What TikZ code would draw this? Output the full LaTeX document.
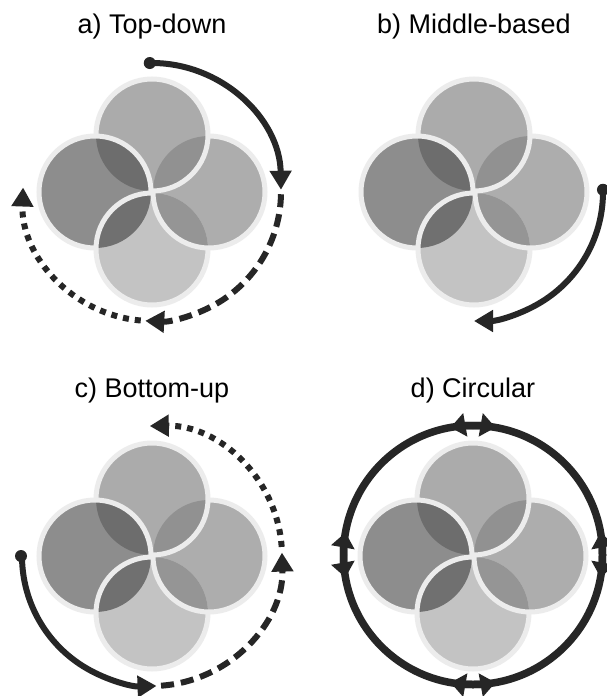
\documentclass[tikz,border=0pt]{standalone}
\usepackage{fontspec}
\setmainfont{Liberation Sans}
\usetikzlibrary{arrows.meta}
\definecolor{ringc}{HTML}{ECECEC}
\definecolor{cT}{HTML}{ABABAB}
\definecolor{cL}{HTML}{8D8D8D}
\definecolor{cR}{HTML}{ADADAD}
\definecolor{cB}{HTML}{C3C3C3}
\definecolor{lTL}{HTML}{6D6D6D}
\definecolor{lTR}{HTML}{919191}
\definecolor{lBL}{HTML}{707070}
\definecolor{lBR}{HTML}{959595}
\definecolor{ink}{HTML}{262626}
\newcommand\clipout[2]{\clip (-1000,-1000) -- (-1000,2000) -- (2000,2000) -- (2000,-1000) -- cycle ({#1+56},#2) arc[start angle=0,end angle=360,radius=56];}
\newcommand\flowerfour[2]{%
 \fill[cT] (#1,#2-57) circle (56);
 \fill[cL] (#1-57,#2) circle (56);
 \fill[cR] (#1+57,#2) circle (56);
 \fill[cB] (#1,#2+57) circle (56);
 \begin{scope}\clip (#1,#2-57) circle (56); \fill[lTL] (#1-57,#2) circle (56); \fill[lTR] (#1+57,#2) circle (56);\end{scope}
 \begin{scope}\clip (#1,#2+57) circle (56); \fill[lBL] (#1-57,#2) circle (56); \fill[lBR] (#1+57,#2) circle (56);\end{scope}
 \begin{scope}\clipout{#1-57}{#2}\draw[ringst] (#1,#2-57) circle (56);\end{scope}
 \begin{scope}\clipout{#1}{#2+57}\draw[ringst] (#1-57,#2) circle (56);\end{scope}
 \begin{scope}\clipout{#1+57}{#2}\draw[ringst] (#1,#2+57) circle (56);\end{scope}
 \begin{scope}\clipout{#1}{#2-57}\draw[ringst] (#1+57,#2) circle (56);\end{scope}
}
\tikzset{
 ringst/.style={draw=ringc, line width=5pt},
 arr/.style={draw=ink, line width=6pt, -{Triangle[length=19pt,width=21pt]}},
 dashedarr/.style={arr, dash pattern=on 13pt off 7pt},
 dottedarr/.style={arr, dash pattern=on 6pt off 6pt},
 dtip/.style={draw=ink, line width=7.5pt, -{Triangle[length=15pt,width=23pt]}},
 startdot/.style={fill=ink},
 title/.style={anchor=base, text=black, font=\fontsize{27}{31}\selectfont, inner sep=0pt},
}
\begin{document}
\begin{tikzpicture}[x=1pt,y=-1pt]
\useasboundingbox[fill=white] (0,0) rectangle (606,696);
% titles
\node[title] (ta) at (152,33) {a) Top-down};
\node[title] (tb) at (474,33) {b) Middle-based};
\node[title] (tc) at (152,397) {c) Bottom-up};
\node[title] (td) at (473,397) {d) Circular};
% flowers
\flowerfour{152}{192}
\flowerfour{474}{192}
\flowerfour{152}{556}
\flowerfour{473}{556}
% a) top-down
\fill[startdot] (152,192) ++(-91:129) circle (6);
\draw[arr] (152,192) ++(-91:129) arc[start angle=-91, end angle=-1, radius=129];
\draw[dashedarr] (152,192) ++(1:129) arc[start angle=1, end angle=93, radius=129];
\draw[dottedarr] (152,192) ++(95:129) arc[start angle=95, end angle=182, radius=129];
% b) middle-based
\fill[startdot] (474,192) ++(-1:129) circle (6);
\draw[arr] (474,192) ++(-1:129) arc[start angle=-1, end angle=90, radius=129];
% c) bottom-up
\fill[startdot] (152,556) ++(180:131) circle (6);
\draw[arr] (152,556) ++(180:130) arc[start angle=180, end angle=88, radius=130];
\draw[dashedarr] (152,556) ++(86:130) arc[start angle=86, end angle=-1.5, radius=130];
\draw[dottedarr] (152,556) ++(-4:130) arc[start angle=-4, end angle=-91, radius=130];
% d) circular
\draw[draw=ink, line width=7.5pt] (473,555) circle (129.5);
\foreach \a in {-90,0,90,180}{
  \draw[dtip] (473,555) ++(\a:129.5) arc[start angle=\a, end angle=\a+10, radius=129.5];
  \draw[dtip] (473,555) ++(\a:129.5) arc[start angle=\a, end angle=\a-10, radius=129.5];
}
\end{tikzpicture}
\end{document}
